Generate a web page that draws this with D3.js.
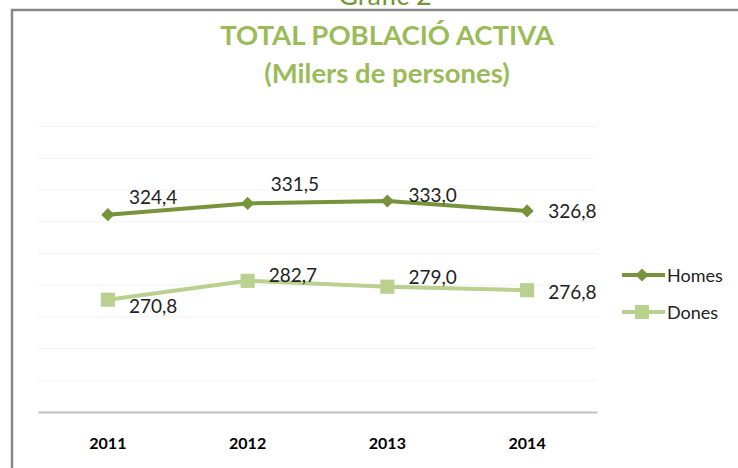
<!DOCTYPE html>
<html>
<head>
<meta charset="utf-8">
<script src="https://cdn.jsdelivr.net/npm/d3@7"></script>
<style>
    body { margin: 0; background: #fff; }
    svg { display: block; font-family: Lato, "Open Sans", sans-serif; }
</style>
</head>
<body>
<svg width="738" height="468"></svg>
<script>
let years = ["2011", "2012", "2013", "2014"];
let homes = [324.4, 331.5, 333.0, 326.8];
let dones = [270.8, 282.7, 279.0, 276.8];
let yTicks = [200, 220, 240, 260, 280, 300, 320, 340, 360, 380];

let svg = d3.select("svg");
let green = "#77933c";
let lightGreen = "#b9d08f";

// marc del gràfic
svg.append("path")
    .attr("d", "M12,468 V10 H738")
    .attr("fill", "none")
    .attr("stroke", "#888")
    .attr("stroke-width", 2.5);

// "Gràfic 2" tallat a dalt
svg.append("text")
    .attr("x", 385).attr("y", 5)
    .attr("text-anchor", "middle")
    .attr("fill", green)
    .style("font-size", "27px")
    .text("Gràfic 2");

svg.append("text")
    .attr("x", 387).attr("y", 45)
    .attr("text-anchor", "middle")
    .attr("fill", "#9bbb59")
    .style("font-size", "27.5px").style("font-weight", "bold")
    .text("TOTAL POBLACIÓ ACTIVA");

svg.append("text")
    .attr("x", 387).attr("y", 83)
    .attr("text-anchor", "middle")
    .attr("fill", "#9bbb59")
    .style("font-size", "27.5px").style("font-weight", "bold")
    .text("(Milers de persones)");

let x = d3.scaleBand().domain(years).range([38, 597]);
let y = d3.scaleLinear().domain([200, 380]).range([412, 126.5]);
let cx = d => x(d) + x.bandwidth() / 2;

// línies de graella
svg.append("g")
    .selectAll("line")
    .data(yTicks.slice(1))
    .enter()
    .append("line")
    .attr("x1", 38).attr("x2", 597)
    .attr("y1", d => y(d)).attr("y2", d => y(d))
    .attr("stroke", "#f2f2f2")
    .attr("stroke-width", 1);

// eix x
let xAxis = svg.append("g")
    .attr("transform", "translate(0," + y(200) + ")")
    .call(d3.axisBottom(x).tickSize(0).tickPadding(26));
xAxis.select(".domain").attr("stroke", "#c0c0c0").attr("stroke-width", 2);
xAxis.selectAll("text")
    .attr("fill", "#000")
    .style("font-size", "16px").style("font-weight", "bold")
    .style("font-family", "Lato, 'Open Sans', sans-serif");

let line = d3.line().x((d, i) => cx(years[i])).y(d => y(d));

svg.append("path").datum(dones)
    .attr("d", line).attr("fill", "none")
    .attr("stroke", lightGreen).attr("stroke-width", 4);
svg.append("path").datum(homes)
    .attr("d", line).attr("fill", "none")
    .attr("stroke", green).attr("stroke-width", 4);

let diamond = d3.symbol().type(d3.symbolDiamond2).size(110);
let square = d3.symbol().type(d3.symbolSquare).size(200);

svg.append("g").selectAll("path")
    .data(homes).enter().append("path")
    .attr("d", diamond)
    .attr("transform", (d, i) => "translate(" + cx(years[i]) + "," + y(d) + ")")
    .attr("fill", green);

svg.append("g").selectAll("path")
    .data(dones).enter().append("path")
    .attr("d", square)
    .attr("transform", (d, i) => "translate(" + cx(years[i]) + "," + y(d) + ")")
    .attr("fill", lightGreen);

// etiquetes de valors
let fmt = v => v.toFixed(1).replace(".", ",");
let homesOffset = [[21, -11], [23, -12], [21, 1], [21, 7]];
let donesOffset = [[21, 13], [21, 1], [21, -3], [21, 9]];

function labels(data, offsets) {
    svg.append("g").selectAll("text")
        .data(data).enter().append("text")
        .attr("x", (d, i) => cx(years[i]) + offsets[i][0])
        .attr("y", (d, i) => y(d) + offsets[i][1])
        .attr("fill", "#222")
        .style("font-size", "19px")
        .text(fmt);
}
labels(homes, homesOffset);
labels(dones, donesOffset);

// llegenda
let legend = [["Homes", green, diamond, 275], ["Dones", lightGreen, square, 312]];
legend.forEach(function (l) {
    let g = svg.append("g");
    g.append("line")
        .attr("x1", 622).attr("x2", 665)
        .attr("y1", l[3]).attr("y2", l[3])
        .attr("stroke", l[1]).attr("stroke-width", 4);
    g.append("path")
        .attr("d", l[2])
        .attr("transform", "translate(642," + l[3] + ")")
        .attr("fill", l[1]);
    g.append("text")
        .attr("x", 667).attr("y", l[3] + 6.5)
        .attr("fill", "#222")
        .style("font-size", "18px")
        .text(l[0]);
});
</script>
</body>
</html>
